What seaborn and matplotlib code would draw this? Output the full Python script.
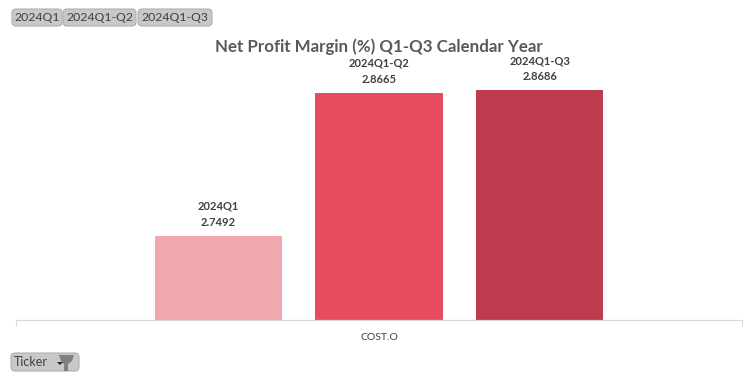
import pandas as pd
import matplotlib
matplotlib.use('Agg')
import matplotlib.pyplot as plt
from matplotlib.patches import FancyBboxPatch, Polygon
from matplotlib.transforms import IdentityTransform
import seaborn as sns

tickers = ['COST.O', 'COST.O', 'COST.O']
periods = ['2024Q1', '2024Q1-Q2', '2024Q1-Q3']
margins = [2.7492, 2.8665, 2.8686]
bar_colors = ['#f0a8ae', '#e64c5e', '#bc3b4e']
title = 'Net Profit Margin (%) Q1-Q3 Calendar Year'

W, H = 756, 378

sns.set_theme(style='white')
plt.rcParams['font.family'] = ['Lato', 'DejaVu Sans']

df = pd.DataFrame({'ticker': tickers, 'period': periods, 'margin': margins})

fig = plt.figure(figsize=(W / 100, H / 100), dpi=100)
ax = fig.add_axes([16 / W, 1 - 320 / H, 726 / W, 280 / H])

sns.barplot(data=df, x='ticker', y='margin', hue='period', palette=bar_colors,
            width=0.665, gap=0.21, saturation=1, linewidth=0, legend=False, ax=ax)
ax.set_xlim(-0.5, 0.5)
ax.set_ylim(2.6803, 2.91)
ax.set_xlabel('')
ax.set_ylabel('')
ax.set_yticks([])
ax.set_xticks([-0.5, 0.5], minor=True)
ax.tick_params(axis='x', which='major', length=0, labelsize=7.5, labelcolor='#404040', pad=9)
ax.tick_params(axis='x', which='minor', length=4, width=0.8, color='#d9d9d9', bottom=True)
sns.despine(ax=ax, left=True)
ax.spines['bottom'].set_color('#d9d9d9')
ax.spines['bottom'].set_linewidth(0.9)

# two line data labels, period over value
for container, period, value in zip(ax.containers, periods, margins):
    ax.bar_label(container, labels=[f'{period}\n{value:.4f}'], padding=6,
                 fontsize=8, fontweight='bold', color='#404040', linespacing=1.55)

fig.text(379 / W, 1 - 46.5 / H, title, ha='center', va='center', fontsize=12.2,
         fontweight='bold', color='#595959')


def slicer_button(x0, y0, x1, y1):
    # pixel coordinates, y counted from the top like the reference
    fig.add_artist(FancyBboxPatch((x0, H - y1), x1 - x0, y1 - y0,
                                  boxstyle='round,pad=0,rounding_size=4',
                                  transform=IdentityTransform(),
                                  facecolor='#c8c8c8', edgecolor='#b0b0b0', linewidth=0.8))


# slicer buttons on top and ticker filter at the bottom
buttons = [(12, 62, '2024Q1'), (63, 136, '2024Q1-Q2'), (138, 212, '2024Q1-Q3')]
for x0, x1, label in buttons:
    slicer_button(x0, 9, x1, 26)
    fig.text((x0 + x1) / 2 / W, 1 - 17.5 / H, label, ha='center', va='center',
             fontsize=8.8, color='#404040')

slicer_button(11, 353, 79, 371)
fig.text(14 / W, 1 - 362 / H, 'Ticker', ha='left', va='center', fontsize=9, color='#404040')

pts = [(59, 355), (74, 355), (72, 361), (68, 364), (68, 371), (64, 371), (64, 364), (61, 361)]
fig.add_artist(Polygon([(x / W, 1 - y / H) for x, y in pts], closed=True,
                       transform=fig.transFigure, facecolor='#7f7f7f', edgecolor='none'))
arrow = [(57, 362), (63, 362), (60, 365)]
fig.add_artist(Polygon([(x / W, 1 - y / H) for x, y in arrow], closed=True,
                       transform=fig.transFigure, facecolor='#222222', edgecolor='none'))

fig.savefig('out.png', dpi=100)
plt.close()
